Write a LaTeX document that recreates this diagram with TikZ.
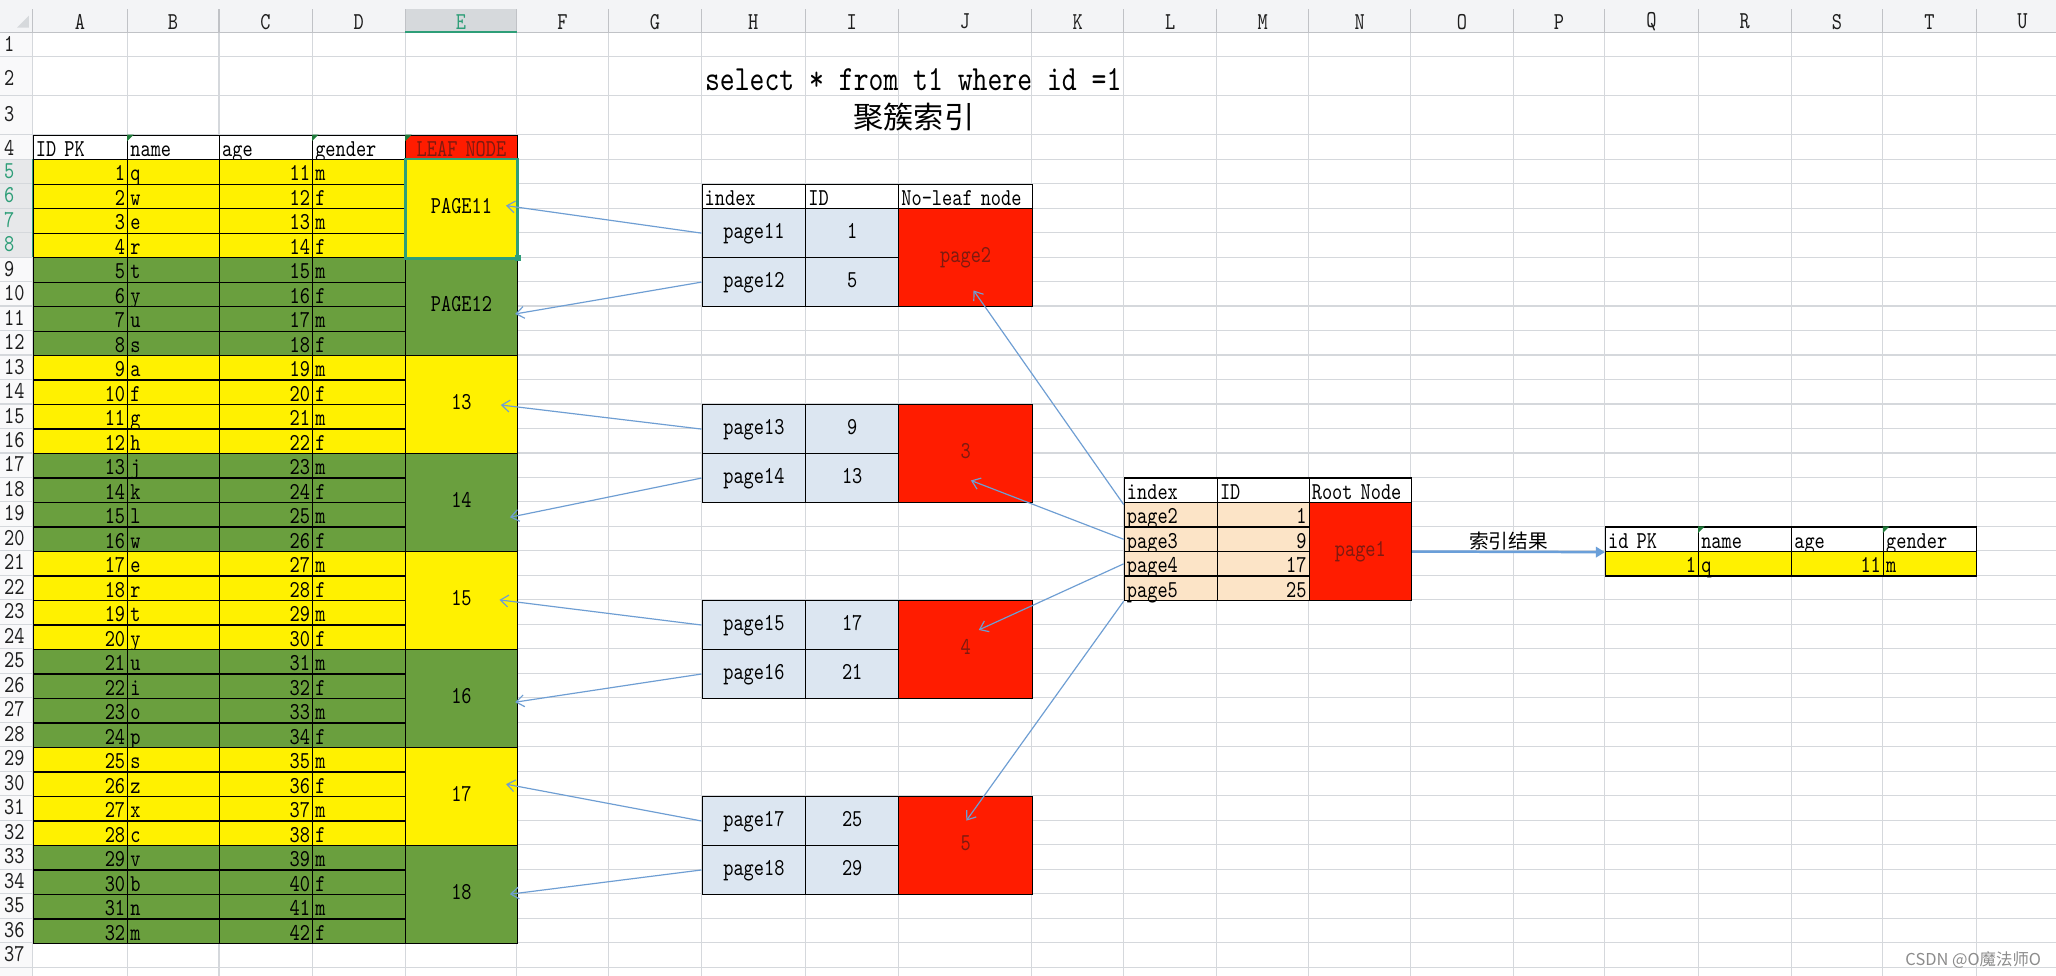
\documentclass[tikz,border=0pt]{standalone}
\usepackage{fontspec}
\usetikzlibrary{calc,arrows.meta}
\newfontfamily\xlfont{lmmono10-regular.otf}[FakeStretch=0.8]
\newfontfamily\cjk{Noto Sans CJK SC}
\definecolor{xyel}{HTML}{FFF100}
\definecolor{xgrn}{HTML}{6A9F3E}
\definecolor{xred}{HTML}{FF1C00}
\definecolor{xdred}{HTML}{7E1A10}
\definecolor{xblu}{HTML}{DCE6F1}
\definecolor{xorg}{HTML}{FCE4C7}
\definecolor{xgrid}{HTML}{D5D8DC}
\definecolor{xhead}{HTML}{F3F4F6}
\definecolor{xsel}{HTML}{D6D9DC}
\definecolor{xteal}{HTML}{2E9E78}
\definecolor{xarr}{HTML}{6E9ED3}
\definecolor{xarrb}{HTML}{6A9FD9}
\definecolor{xcmt}{HTML}{1F7A3A}
\definecolor{xhtx}{HTML}{1E1E1E}
\newcommand\xlcell[7]{\pgfmathsetmacro\xltw{#4-4}\node[#6,minimum width=#4pt,minimum height=#5pt,text width=\xltw pt] (#1) at (#2,#3) {#7};}
\begin{document}
\begin{tikzpicture}[x=1pt,y=-1pt,
  xlf/.style={font=\xlfont\fontsize{18.5}{18.5}\selectfont},
  cellb/.style={draw=black,line width=0.9pt,inner sep=0pt,anchor=north west,xlf,text height=15.5pt,text depth=2pt},
  cellm/.style={draw=black,line width=0.9pt,inner sep=0pt,anchor=north west,xlf,text height=10.5pt,text depth=2.5pt},
  grid/.style={draw=xgrid,line width=0.8pt},
  arr/.style={draw=xarr,line width=0.9pt,-{Straight Barb[length=6pt,width=9pt]}},
  arrb/.style={draw=xarrb,line width=1.9pt,-{Triangle[length=7pt,width=8pt]}},
  colhd/.style={font=\xlfont\fontsize{18.5}{18.5}\selectfont,text=xhtx,inner sep=0pt},
  rowhd/.style={font=\xlfont\fontsize{18.5}{18.5}\selectfont,text=xhtx,inner sep=0pt,anchor=base west},
  cmt/.style={fill=xcmt}]
\useasboundingbox (0,0) rectangle (1568,744);
\clip (0,0) rectangle (1568,744);
\fill[white] (0,0) rectangle (1568,744);
% header bar and row header column
\fill[xhead] (0,0) rectangle (1568,25);
\fill[xhead!50] (0,25) rectangle (25,744);
\fill[xsel] (309,7) rectangle (394,25);
\fill[xsel!60] (0,121.3) rectangle (25,196);
\fill[xsel] (13,21) -- (22,21) -- (22,12) -- cycle;
% gridlines
\foreach \x in {25,97,167,238,309,394,464,535,614,685,787,857,928,998,1076,1154,1224,1295,1366,1436,1507}{
  \draw[grid] (\x,25) -- (\x,744);
  \draw[draw=xgrid!90!black,line width=0.8pt] (\x,7) -- (\x,25);
}
\draw[draw=xgrid!90!black,line width=0.9pt] (0,25) -- (1568,25);
\draw[grid] (0,43) -- (1568,43);
\draw[grid] (0,73) -- (1568,73);
\foreach \k in {0,...,34}{\pgfmathsetmacro\yy{102.62+\k*18.68}\draw[grid] (0,\yy) -- (1568,\yy);}
\draw[xteal,line width=1.5pt] (309,24.2) -- (394,24.2);
\draw[xteal,line width=1.2pt] (25,121.3) -- (25,196);
% column letters
\foreach \l/\a/\b in {A/25/97,B/97/167,C/167/238,D/238/309,F/394/464,G/464/535,H/535/614,I/614/685,J/685/787,K/787/857,L/857/928,M/928/998,N/998/1076,O/1076/1154,P/1154/1224,Q/1224/1295,R/1295/1366,S/1366/1436,T/1436/1507,U/1507/1578}{
  \node[colhd] (hd\l) at ({(\a+\b)/2},16.5) {\l};
}
\node[colhd,text=xteal] (hdE) at (351.5,16.5) {E};
% row numbers
\node[rowhd] (rl1) at (3,39.5) {1};
\node[rowhd] (rl2) at (3,65.5) {2};
\node[rowhd] (rl3) at (3,92.5) {3};
\node[rowhd] (rl4) at (3,118.5) {4};
\foreach \r in {5,...,8}{\pgfmathsetmacro\yy{121.3+(\r-5)*18.68+14.5}\node[rowhd,text=xteal] (rl\r) at (3,\yy) {\r};}
\foreach \r in {9,...,37}{\pgfmathsetmacro\yy{121.3+(\r-5)*18.68+14.5}\node[rowhd] (rl\r) at (3,\yy) {\r};}
% titles
\node[font=\xlfont\fontsize{27}{27}\selectfont,inner sep=0pt] (sql) at (696.5,61) {select * from t1 where id =1};
\node[font=\cjk\fontsize{23}{23}\selectfont,inner sep=0pt] (ttl) at (697,89.5) {聚簇索引};
% left table header
\xlcell{a0}{25}{102.62}{72}{18.68}{cellb,fill=white,align=left}{ID PK}
\xlcell{b0}{97}{102.62}{70}{18.68}{cellb,fill=white,align=left}{name}
\xlcell{c0}{167}{102.62}{71}{18.68}{cellb,fill=white,align=left}{age}
\xlcell{d0}{238}{102.62}{71}{18.68}{cellb,fill=white,align=left}{gender}
\xlcell{e0}{309}{102.62}{85}{18.68}{cellb,fill=xred,text=xdred,align=center}{LEAF NODE}
% left table rows
\foreach \nm [count=\ii] in {q,w,e,r,t,y,u,s,a,f,g,h,j,k,l,w,e,r,t,y,u,i,o,p,s,z,x,c,v,b,n,m}{
  \pgfmathsetmacro\yt{121.3+(\ii-1)*18.68}
  \pgfmathtruncatemacro\age{\ii+10}
  \pgfmathtruncatemacro\grp{mod(floor((\ii-1)/4),2)}
  \pgfmathtruncatemacro\gm{mod(\ii,2)}
  \ifnum\grp=0 \def\fc{xyel}\else\def\fc{xgrn}\fi
  \ifnum\gm=1 \def\gd{m}\else\def\gd{f}\fi
  \xlcell{a\ii}{25}{\yt}{72}{18.68}{cellb,fill=\fc,align=right}{\ii}
  \xlcell{b\ii}{97}{\yt}{70}{18.68}{cellb,fill=\fc,align=left}{\nm}
  \xlcell{c\ii}{167}{\yt}{71}{18.68}{cellb,fill=\fc,align=right}{\age}
  \xlcell{d\ii}{238}{\yt}{71}{18.68}{cellb,fill=\fc,align=left}{\gd}
}
\foreach \lab [count=\g] in {PAGE11,PAGE12,13,14,15,16,17,18}{
  \pgfmathsetmacro\yt{121.3+(\g-1)*74.72}
  \pgfmathtruncatemacro\grp{mod(\g-1,2)}
  \ifnum\grp=0 \def\fc{xyel}\else\def\fc{xgrn}\fi
  \xlcell{g\g}{309}{\yt}{85}{74.72}{cellm,fill=\fc,align=center}{\lab}
}
% middle tables
\xlcell{mh1}{535}{139.98}{79}{18.68}{cellb,fill=white,align=left}{index}
\xlcell{mh2}{614}{139.98}{71}{18.68}{cellb,fill=white,align=left}{ID}
\xlcell{mh3}{685}{139.98}{102}{18.68}{cellb,fill=white,align=left}{No-leaf node}
\foreach \r/\pa/\ia/\pb/\ib/\jl [count=\k] in {7/page11/1/page12/5/page2,15/page13/9/page14/13/3,23/page15/17/page16/21/4,31/page17/25/page18/29/5}{
  \pgfmathsetmacro\yt{121.3+(\r-5)*18.68}
  \pgfmathsetmacro\ym{121.3+(\r-3)*18.68}
  \xlcell{pa\k}{535}{\yt}{79}{37.36}{cellm,fill=xblu,align=center}{\pa}
  \xlcell{ia\k}{614}{\yt}{71}{37.36}{cellm,fill=xblu,align=center}{\ia}
  \xlcell{pb\k}{535}{\ym}{79}{37.36}{cellm,fill=xblu,align=center}{\pb}
  \xlcell{ib\k}{614}{\ym}{71}{37.36}{cellm,fill=xblu,align=center}{\ib}
  \xlcell{nl\k}{685}{\yt}{102}{74.72}{cellm,fill=xred,text=xdred,align=center}{\jl}
}
% root table
\xlcell{rh1}{857}{364.14}{71}{18.68}{cellb,fill=white,align=left}{index}
\xlcell{rh2}{928}{364.14}{70}{18.68}{cellb,fill=white,align=left}{ID}
\xlcell{rh3}{998}{364.14}{78}{18.68}{cellb,fill=white,align=left}{Root Node}
\foreach \p/\v [count=\k] in {page2/1,page3/9,page4/17,page5/25}{
  \pgfmathsetmacro\yt{364.14+\k*18.68}
  \xlcell{rp\k}{857}{\yt}{71}{18.68}{cellb,fill=xorg,align=left}{\p}
  \xlcell{rv\k}{928}{\yt}{70}{18.68}{cellb,fill=xorg,align=right}{\v}
}
\xlcell{root}{998}{382.82}{78}{74.72}{cellm,fill=xred,text=xdred,align=center}{page1}
% result table
\xlcell{q1}{1224}{401.5}{71}{18.68}{cellb,fill=white,align=left}{id PK}
\xlcell{q2}{1295}{401.5}{71}{18.68}{cellb,fill=white,align=left}{name}
\xlcell{q3}{1366}{401.5}{70}{18.68}{cellb,fill=white,align=left}{age}
\xlcell{q4}{1436}{401.5}{71}{18.68}{cellb,fill=white,align=left}{gender}
\xlcell{s1}{1224}{420.18}{71}{18.68}{cellb,fill=xyel,align=right}{1}
\xlcell{s2}{1295}{420.18}{71}{18.68}{cellb,fill=xyel,align=left}{q}
\xlcell{s3}{1366}{420.18}{70}{18.68}{cellb,fill=xyel,align=right}{11}
\xlcell{s4}{1436}{420.18}{71}{18.68}{cellb,fill=xyel,align=left}{m}
% comment markers
\foreach \c in {b0,d0,e0,q2,q4}{\fill[cmt] (\c.north west) -- ++(5,0) -- ++(-5,5) -- cycle;}
% selection
\draw[xteal,line width=2.2pt] (g1.north west) rectangle (g1.south east);
\fill[xteal] ($(g1.south east)+(-2.5,-2.5)$) rectangle ++(5,5);
% arrows to leaf pages
\draw[arr] (pa1.west) -- ($(g1.east)+(-9,-2.3)$);
\draw[arr] (pb1.west) -- ($(g2.east)+(-2,5.6)$);
\draw[arr] (pa2.west) -- ($(g3.east)+(-13,0.3)$);
\draw[arr] (pb2.west) -- ($(g4.east)+(-6,11.2)$);
\draw[arr] (pa3.west) -- ($(g5.east)+(-14,-0.5)$);
\draw[arr] (pb3.west) -- ($(g6.east)+(-2,2.8)$);
\draw[arr] (pa4.west) -- ($(g7.east)+(-9,-9.4)$);
\draw[arr] (pb4.west) -- ($(g8.east)+(-6,-0.2)$);
% arrows from root
\draw[arr] ($(rp1.north west)+(0,2)$) -- ($(nl1.center)+(6,25)$);
\draw[arr] (rp2.west) -- ($(nl2.center)+(4,20.5)$);
\draw[arr] (rp3.west) -- ($(nl3.center)+(10,-14.9)$);
\draw[arr] (rp4.south west) -- ($(nl4.center)+(0.5,-18.9)$);
% result arrow
\draw[arrb] (root.east) -- (q1.south west) node[midway,yshift=8pt,font=\cjk\fontsize{15}{15}\selectfont,text=black,inner sep=0pt] (lbl) {索引结果};
% watermark
\node[anchor=base west,inner sep=0pt,text=black!45,font=\cjk\fontsize{12.5}{12.5}\selectfont] (wm) at (1453,736) {CSDN @O魔法师O};
\end{tikzpicture}
\end{document}
